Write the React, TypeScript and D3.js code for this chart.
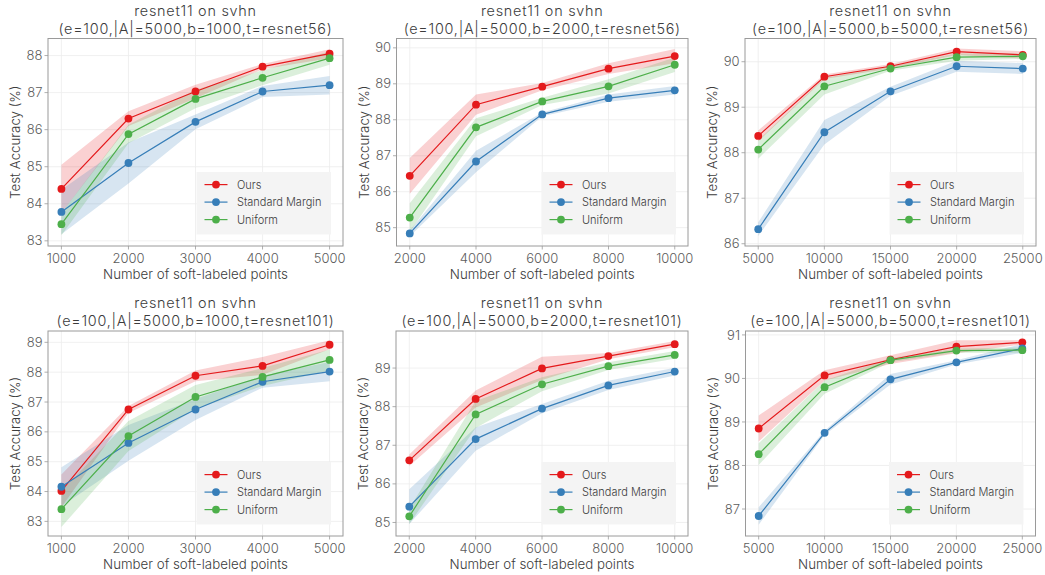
import React from "react";
import * as d3 from "d3";

// x positions (number of soft-labeled points) for each budget
const pointsB1000 = [1000, 2000, 3000, 4000, 5000];
const pointsB2000 = [2000, 4000, 6000, 8000, 10000];
const pointsB5000 = [5000, 10000, 15000, 20000, 25000];

// teacher resnet56 — mean test accuracy and std
const r56b1000Ours = [84.4, 86.3, 87.03, 87.7, 88.05];
const r56b1000OursStd = [0.65, 0.2, 0.18, 0.07, 0.12];
const r56b1000Margin = [83.78, 85.1, 86.21, 87.03, 87.2];
const r56b1000MarginStd = [0.6, 0.55, 0.2, 0.15, 0.25];
const r56b1000Uniform = [83.45, 85.88, 86.83, 87.4, 87.93];
const r56b1000UniformStd = [0.3, 0.25, 0.25, 0.2, 0.18];

const r56b2000Ours = [86.44, 88.42, 88.92, 89.42, 89.77];
const r56b2000OursStd = [0.5, 0.28, 0.1, 0.15, 0.2];
const r56b2000Margin = [84.84, 86.84, 88.15, 88.6, 88.82];
const r56b2000MarginStd = [0.08, 0.3, 0.05, 0.1, 0.12];
const r56b2000Uniform = [85.28, 87.79, 88.51, 88.93, 89.53];
const r56b2000UniformStd = [0.4, 0.25, 0.1, 0.2, 0.2];

const r56b5000Ours = [88.37, 89.67, 89.9, 90.22, 90.15];
const r56b5000OursStd = [0.12, 0.05, 0.05, 0.07, 0.08];
const r56b5000Margin = [86.32, 88.45, 89.35, 89.9, 89.85];
const r56b5000MarginStd = [0.15, 0.27, 0.1, 0.12, 0.12];
const r56b5000Uniform = [88.07, 89.46, 89.85, 90.1, 90.12];
const r56b5000UniformStd = [0.2, 0.18, 0.05, 0.08, 0.06];

// teacher resnet101
const r101b1000Ours = [84.02, 86.75, 87.88, 88.21, 88.92];
const r101b1000OursStd = [0.55, 0.12, 0.18, 0.3, 0.15];
const r101b1000Margin = [84.16, 85.63, 86.75, 87.68, 88.02];
const r101b1000MarginStd = [0.65, 0.6, 0.35, 0.2, 0.32];
const r101b1000Uniform = [83.41, 85.86, 87.17, 87.84, 88.41];
const r101b1000UniformStd = [0.6, 0.5, 0.4, 0.3, 0.35];

const r101b2000Ours = [86.61, 88.2, 88.99, 89.31, 89.62];
const r101b2000OursStd = [0.15, 0.22, 0.3, 0.08, 0.08];
const r101b2000Margin = [85.41, 87.16, 87.95, 88.55, 88.91];
const r101b2000MarginStd = [0.45, 0.3, 0.12, 0.12, 0.1];
const r101b2000Uniform = [85.16, 87.8, 88.58, 89.05, 89.34];
const r101b2000UniformStd = [0.2, 0.35, 0.18, 0.1, 0.1];

const r101b5000Ours = [88.85, 90.07, 90.43, 90.73, 90.83];
const r101b5000OursStd = [0.3, 0.12, 0.1, 0.15, 0.05];
const r101b5000Margin = [86.84, 88.75, 89.98, 90.37, 90.69];
const r101b5000MarginStd = [0.2, 0.05, 0.12, 0.05, 0.1];
const r101b5000Uniform = [88.26, 89.8, 90.42, 90.64, 90.65];
const r101b5000UniformStd = [0.25, 0.15, 0.05, 0.05, 0.06];

const seriesNames = ["Ours", "Standard Margin", "Uniform"];
const seriesColors = ["#e41a1c", "#377eb8", "#4daf4a"];

const titles = [
  "(e=100,|A|=5000,b=1000,t=resnet56)",
  "(e=100,|A|=5000,b=2000,t=resnet56)",
  "(e=100,|A|=5000,b=5000,t=resnet56)",
  "(e=100,|A|=5000,b=1000,t=resnet101)",
  "(e=100,|A|=5000,b=2000,t=resnet101)",
  "(e=100,|A|=5000,b=5000,t=resnet101)",
];

const panelData = [
  { xs: pointsB1000, mean: [r56b1000Ours, r56b1000Margin, r56b1000Uniform], std: [r56b1000OursStd, r56b1000MarginStd, r56b1000UniformStd] },
  { xs: pointsB2000, mean: [r56b2000Ours, r56b2000Margin, r56b2000Uniform], std: [r56b2000OursStd, r56b2000MarginStd, r56b2000UniformStd] },
  { xs: pointsB5000, mean: [r56b5000Ours, r56b5000Margin, r56b5000Uniform], std: [r56b5000OursStd, r56b5000MarginStd, r56b5000UniformStd] },
  { xs: pointsB1000, mean: [r101b1000Ours, r101b1000Margin, r101b1000Uniform], std: [r101b1000OursStd, r101b1000MarginStd, r101b1000UniformStd] },
  { xs: pointsB2000, mean: [r101b2000Ours, r101b2000Margin, r101b2000Uniform], std: [r101b2000OursStd, r101b2000MarginStd, r101b2000UniformStd] },
  { xs: pointsB5000, mean: [r101b5000Ours, r101b5000Margin, r101b5000Uniform], std: [r101b5000OursStd, r101b5000MarginStd, r101b5000UniformStd] },
];

// axes boxes and ranges
const layout = [
  { l: 48, r: 343, t: 38.5, b: 246, xd: [800, 5200], yd: [82.86, 88.46], yt: [83, 84, 85, 86, 87, 88] },
  { l: 396.5, r: 688, t: 38.5, b: 246, xd: [1600, 10400], yd: [84.49, 90.26], yt: [85, 86, 87, 88, 89, 90] },
  { l: 745, r: 1036, t: 38.5, b: 246, xd: [4000, 26000], yd: [85.95, 90.51], yt: [86, 87, 88, 89, 90] },
  { l: 48, r: 343, t: 331, b: 536, xd: [800, 5200], yd: [82.51, 89.38], yt: [83, 84, 85, 86, 87, 88, 89] },
  { l: 396, r: 688, t: 331, b: 536, xd: [1600, 10400], yd: [84.65, 89.96], yt: [85, 86, 87, 88, 89] },
  { l: 745.5, r: 1035.5, t: 331, b: 536, xd: [4000, 26000], yd: [86.38, 91.09], yt: [87, 88, 89, 90, 91] },
];

const FONT = "Inter, 'Open Sans', sans-serif";
const TEXT = "#3c3c3c";
const TICK_TEXT = "#5c5c5c";
const SPINE = "#9a9a9a";
const GRID = "#ececec";

function Panel({ idx }: { idx: number }) {
  const L = layout[idx];
  const D = panelData[idx];
  const x = d3.scaleLinear().domain(L.xd).range([L.l, L.r]);
  const y = d3.scaleLinear().domain(L.yd).range([L.b, L.t]);
  const cx = (L.l + L.r) / 2;
  const cy = (L.t + L.b) / 2;
  const clipId = `clip-${idx}`;

  const line = d3
    .line<[number, number]>()
    .x((d) => x(d[0]))
    .y((d) => y(d[1]));
  const area = d3
    .area<[number, number, number]>()
    .x((d) => x(d[0]))
    .y0((d) => y(d[1] - d[2]))
    .y1((d) => y(d[1] + d[2]));

  const legW = 134.5;
  const legH = 62.5;
  const legX = L.r - 12 - legW;
  const legY = L.b - 11.5 - legH;

  return (
    <g>
      <defs>
        <clipPath id={clipId}>
          <rect x={L.l} y={L.t} width={L.r - L.l} height={L.b - L.t} />
        </clipPath>
      </defs>
      {/* grid */}
      {D.xs.map((v) => (
        <line key={"gx" + v} x1={x(v)} x2={x(v)} y1={L.t} y2={L.b} stroke={GRID} strokeWidth={0.8} />
      ))}
      {L.yt.map((v) => (
        <line key={"gy" + v} x1={L.l} x2={L.r} y1={y(v)} y2={y(v)} stroke={GRID} strokeWidth={0.8} />
      ))}
      {/* bands, lines and markers */}
      <g clipPath={`url(#${clipId})`}>
        {D.mean.map((m, s) => (
          <path
            key={"band" + s}
            d={area(D.xs.map((v, i) => [v, m[i], D.std[s][i]]) as [number, number, number][]) || ""}
            fill={seriesColors[s]}
            fillOpacity={0.2}
            stroke="none"
          />
        ))}
        {D.mean.map((m, s) => (
          <g key={"ser" + s}>
            <path
              d={line(D.xs.map((v, i) => [v, m[i]]) as [number, number][]) || ""}
              fill="none"
              stroke={seriesColors[s]}
              strokeWidth={1.2}
            />
            {D.xs.map((v, i) => (
              <circle key={i} cx={x(v)} cy={y(m[i])} r={3.9} fill={seriesColors[s]} />
            ))}
          </g>
        ))}
      </g>
      {/* spines */}
      <rect x={L.l} y={L.t} width={L.r - L.l} height={L.b - L.t} fill="none" stroke={SPINE} strokeWidth={1} />
      {/* ticks */}
      {D.xs.map((v) => (
        <g key={"tx" + v}>
          <line x1={x(v)} x2={x(v)} y1={L.b} y2={L.b + 3.5} stroke={SPINE} strokeWidth={0.8} />
          <text x={x(v)} y={L.b + 16.5} textAnchor="middle" fontSize={13} fill={TICK_TEXT} fontFamily={FONT} fontWeight={300}>
            {v}
          </text>
        </g>
      ))}
      {L.yt.map((v) => (
        <g key={"ty" + v}>
          <line x1={L.l - 3.5} x2={L.l} y1={y(v)} y2={y(v)} stroke={SPINE} strokeWidth={0.8} />
          <text x={L.l - 5.5} y={y(v) + 4.6} textAnchor="end" fontSize={13} fill={TICK_TEXT} fontFamily={FONT} fontWeight={300}>
            {v}
          </text>
        </g>
      ))}
      {/* axis labels */}
      <text x={cx} y={L.b + 32.5} textAnchor="middle" fontSize={13.3} fill={TEXT} fontFamily={FONT} fontWeight={300}>
        Number of soft-labeled points
      </text>
      <text
        transform={`translate(${L.l - 28},${cy}) rotate(-90)`}
        textAnchor="middle"
        fontSize={13.3}
        fill={TEXT}
        fontFamily={FONT}
        fontWeight={300}
      >
        Test Accuracy (%)
      </text>
      {/* two-line title */}
      <text x={cx} y={L.t - 23} textAnchor="middle" fontSize={14.4} letterSpacing={0.75} fill={TEXT} fontFamily={FONT} fontWeight={300}>
        resnet11 on svhn
      </text>
      <text x={cx} y={L.t - 5} textAnchor="middle" fontSize={14.4} letterSpacing={0.75} fill={TEXT} fontFamily={FONT} fontWeight={300}>
        {titles[idx]}
      </text>
      {/* legend */}
      <rect x={legX} y={legY} width={legW} height={legH} fill="#f3f3f3" fillOpacity={0.95} />
      {seriesNames.map((n, s) => {
        const ry = legY + 12.6 + s * 17.5;
        return (
          <g key={"leg" + s}>
            <line x1={legX + 8} x2={legX + 31} y1={ry} y2={ry} stroke={seriesColors[s]} strokeWidth={1.2} />
            <circle cx={legX + 19.5} cy={ry} r={3.9} fill={seriesColors[s]} />
            <text x={legX + 40.5} y={ry + 4.2} fontSize={11} fill={TEXT} fontFamily={FONT} fontWeight={300}>
              {n}
            </text>
          </g>
        );
      })}
    </g>
  );
}

export default function App() {
  return (
    <svg width={1045} height={575} style={{ position: "absolute", left: 0, top: 0, background: "#fff" }}>
      <rect width={1045} height={575} fill="#fff" />
      {layout.map((_, i) => (
        <Panel key={i} idx={i} />
      ))}
    </svg>
  );
}
